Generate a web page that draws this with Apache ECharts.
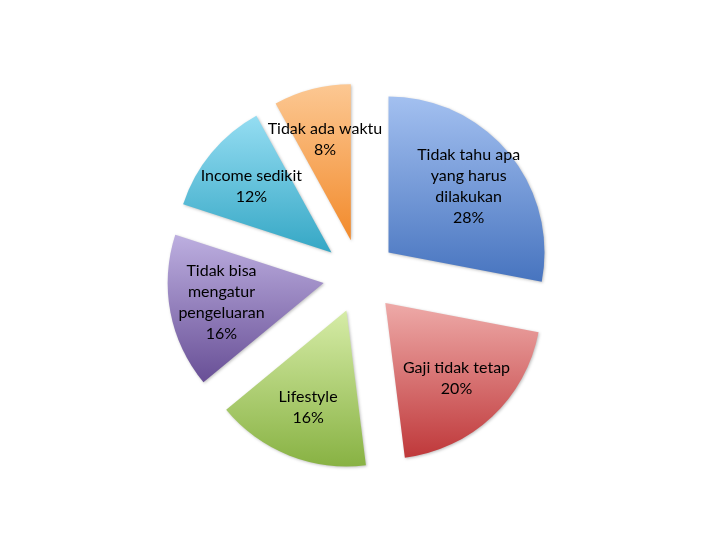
<!DOCTYPE html>
<html>
<head>
<meta charset="utf-8">
<script src="https://cdn.jsdelivr.net/npm/echarts@6/dist/echarts.min.js"></script>
<style>html,body{margin:0;padding:0;background:#fff}#c{width:720px;height:540px}</style>
</head>
<body>
<div id="c"></div>
<script>
const categories = ["Tidak tahu apa yang harus dilakukan", "Gaji tidak tetap", "Lifestyle", "Tidak bisa mengatur pengeluaran", "Income sedikit", "Tidak ada waktu"];
const labelLines = ["Tidak tahu apa\nyang harus\ndilakukan", "Gaji tidak tetap", "Lifestyle", "Tidak bisa\nmengatur\npengeluaran", "Income sedikit", "Tidak ada waktu"];
const values = [28, 20, 16, 16, 12, 8];
const topColors = ["#a3c0f0", "#eeaaa8", "#d6eca7", "#bdafe0", "#95ddf2", "#fcc893"];
const bottomColors = ["#4774bf", "#bf383a", "#88b243", "#684f96", "#35a7c5", "#f28a2b"];

const chart = echarts.init(document.getElementById('c'), null, {renderer: 'canvas'});
const center = [360, 276];
const offset = 37;

const fillData = categories.map((n, i) => ({
  name: n, value: values[i], selected: true,
  itemStyle: {color: new echarts.graphic.LinearGradient(0, 0, 0, 1, [
    {offset: 0, color: topColors[i]}, {offset: 1, color: bottomColors[i]}])}
}));
const labelData = categories.map((n, i) => ({
  name: n, value: values[i], selected: true,
  label: {formatter: labelLines[i] + '\n' + values[i] + '%'}
}));

chart.setOption({
  animation: false,
  series: [
    {
      type: 'pie', center: center, radius: [0, 156], startAngle: 90, clockwise: true,
      selectedMode: 'multiple', selectedOffset: offset, silent: true,
      label: {show: false}, labelLine: {show: false},
      itemStyle: {borderWidth: 0, shadowBlur: 3, shadowColor: 'rgba(0,0,0,0.25)', shadowOffsetX: 1, shadowOffsetY: 1},
      data: fillData
    },
    {
      type: 'pie', center: center, radius: [46, 156], startAngle: 90, clockwise: true,
      selectedMode: 'multiple', selectedOffset: offset, silent: true,
      avoidLabelOverlap: false, minShowLabelAngle: 0,
      labelLayout: {hideOverlap: false},
      itemStyle: {color: 'rgba(0,0,0,0)', borderWidth: 0},
      label: {show: true, position: 'inside', color: '#000', fontFamily: 'Lato', fontSize: 16, lineHeight: 21, align: 'center', overflow: 'none'},
      labelLine: {show: false},
      data: labelData
    }
  ]
});
</script>
</body>
</html>
